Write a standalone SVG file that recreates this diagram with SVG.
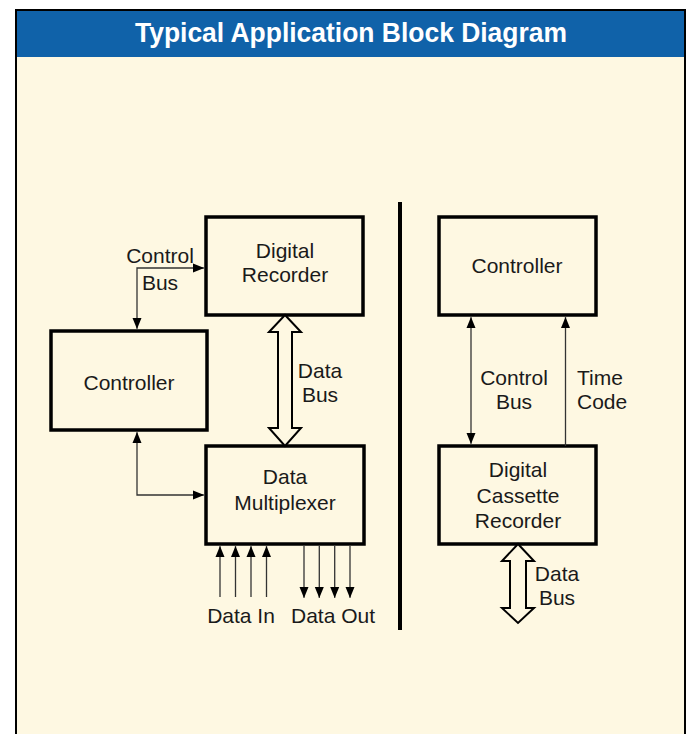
<svg xmlns="http://www.w3.org/2000/svg" width="694" height="734" viewBox="0 0 694 734">
<style>
.box{fill:none;stroke:#000;stroke-width:3.5}
.t{font-family:"Liberation Sans",Arial,sans-serif;font-size:21px;fill:#1a1a1a;text-anchor:middle}
.ln{fill:none;stroke:#333;stroke-width:1.3}
.fat{fill:#fef8e2;stroke:#000;stroke-width:2;stroke-linejoin:miter}
</style>
<defs>
<marker id="ah" markerWidth="10" markerHeight="11" refX="11" refY="5" orient="auto-start-reverse" markerUnits="userSpaceOnUse">
<path d="M0,0.5 L11,5 L0,9.5 Z" fill="#000"/>
</marker>
</defs>
<rect x="0" y="0" width="694" height="734" fill="#fff"/>
<rect x="16" y="10" width="669" height="740" fill="#fef8e2" stroke="#000" stroke-width="2"/>
<rect x="17" y="11" width="667" height="46" fill="#1062a9"/>
<text x="351" y="42" font-family="'Liberation Sans',Arial,sans-serif" font-size="27" font-weight="bold" fill="#fff" text-anchor="middle" textLength="432" lengthAdjust="spacingAndGlyphs">Typical Application Block Diagram</text>
<rect x="398" y="202" width="4" height="428" fill="#000"/>

<g id="digital-recorder">
<rect class="box" x="206" y="217" width="157" height="98"/>
<text class="t" x="285" y="258">Digital</text>
<text class="t" x="285" y="282">Recorder</text>
</g>
<g id="controller-left">
<rect class="box" x="51" y="331" width="156" height="99"/>
<text class="t" x="129" y="390">Controller</text>
</g>
<g id="data-multiplexer">
<rect class="box" x="206" y="446" width="158" height="98"/>
<text class="t" x="285" y="484">Data</text>
<text class="t" x="285" y="510">Multiplexer</text>
</g>
<g id="controller-right">
<rect class="box" x="439" y="217" width="157" height="98"/>
<text class="t" x="517" y="273">Controller</text>
</g>
<g id="digital-cassette-recorder">
<rect class="box" x="439" y="446" width="157" height="98"/>
<text class="t" x="518" y="477">Digital</text>
<text class="t" x="518" y="503">Cassette</text>
<text class="t" x="518" y="528">Recorder</text>
</g>

<g id="connectors">
<path class="ln" d="M204,268 H137 V329" marker-start="url(#ah)" marker-end="url(#ah)"/>
<path class="ln" d="M137,432 V495 H204" marker-start="url(#ah)" marker-end="url(#ah)"/>
<polygon class="fat" points="285,315 301,332 292,332 292,428 301,428 285,446 269,428 278,428 278,332 269,332"/>
<path class="ln" d="M220,597 V546" marker-end="url(#ah)"/>
<path class="ln" d="M235.5,597 V546" marker-end="url(#ah)"/>
<path class="ln" d="M251,597 V546" marker-end="url(#ah)"/>
<path class="ln" d="M266.5,597 V546" marker-end="url(#ah)"/>
<path class="ln" d="M304,546 V598" marker-end="url(#ah)"/>
<path class="ln" d="M319.3,546 V598" marker-end="url(#ah)"/>
<path class="ln" d="M334.7,546 V598" marker-end="url(#ah)"/>
<path class="ln" d="M350,546 V598" marker-end="url(#ah)"/>
<path class="ln" d="M471,317 V444" marker-start="url(#ah)" marker-end="url(#ah)"/>
<path class="ln" d="M565.5,446 V317" marker-end="url(#ah)"/>
<polygon class="fat" points="518,544 534,561 526,561 526,608 534,608 518,623 502,608 510,608 510,561 502,561"/>
<text class="t" x="160" y="263">Control</text>
<text class="t" x="160" y="290">Bus</text>
<text class="t" x="320" y="378">Data</text>
<text class="t" x="320" y="402">Bus</text>
<text class="t" x="241" y="623">Data In</text>
<text class="t" x="333" y="623">Data Out</text>
<text class="t" x="514" y="385">Control</text>
<text class="t" x="514" y="409">Bus</text>
<text class="t" x="577" y="385" style="text-anchor:start">Time</text>
<text class="t" x="577" y="409" style="text-anchor:start">Code</text>
<text class="t" x="557" y="581">Data</text>
<text class="t" x="557" y="605">Bus</text>
</g>
</svg>
